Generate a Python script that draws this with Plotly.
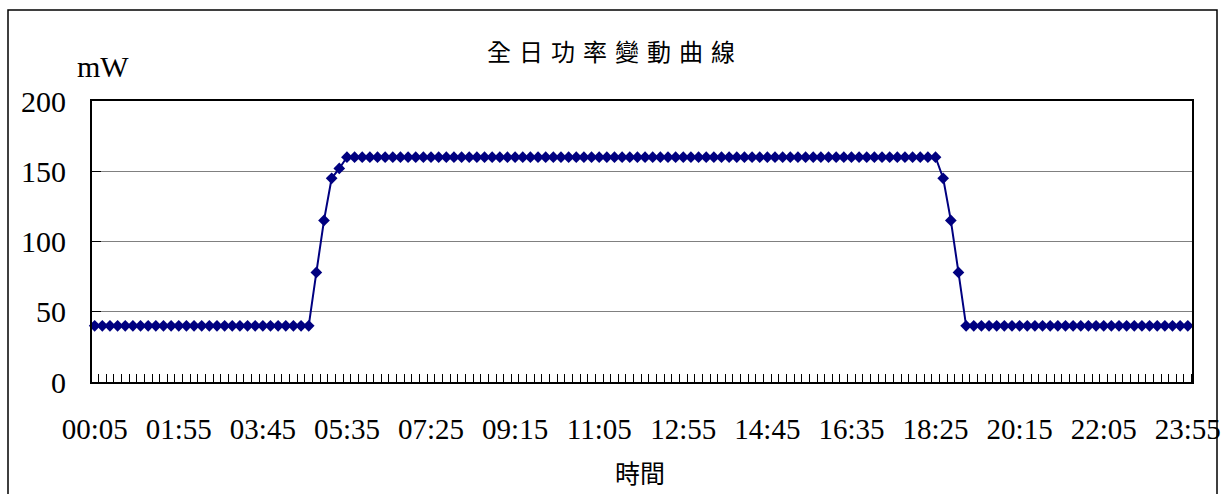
import plotly.graph_objects as go

categories = [
    "00:05", "00:15", "00:25", "00:35", "00:45", "00:55",
    "01:05", "01:15", "01:25", "01:35", "01:45", "01:55",
    "02:05", "02:15", "02:25", "02:35", "02:45", "02:55",
    "03:05", "03:15", "03:25", "03:35", "03:45", "03:55",
    "04:05", "04:15", "04:25", "04:35", "04:45", "04:55",
    "05:05", "05:15", "05:25", "05:35", "05:45", "05:55",
    "06:05", "06:15", "06:25", "06:35", "06:45", "06:55",
    "07:05", "07:15", "07:25", "07:35", "07:45", "07:55",
    "08:05", "08:15", "08:25", "08:35", "08:45", "08:55",
    "09:05", "09:15", "09:25", "09:35", "09:45", "09:55",
    "10:05", "10:15", "10:25", "10:35", "10:45", "10:55",
    "11:05", "11:15", "11:25", "11:35", "11:45", "11:55",
    "12:05", "12:15", "12:25", "12:35", "12:45", "12:55",
    "13:05", "13:15", "13:25", "13:35", "13:45", "13:55",
    "14:05", "14:15", "14:25", "14:35", "14:45", "14:55",
    "15:05", "15:15", "15:25", "15:35", "15:45", "15:55",
    "16:05", "16:15", "16:25", "16:35", "16:45", "16:55",
    "17:05", "17:15", "17:25", "17:35", "17:45", "17:55",
    "18:05", "18:15", "18:25", "18:35", "18:45", "18:55",
    "19:05", "19:15", "19:25", "19:35", "19:45", "19:55",
    "20:05", "20:15", "20:25", "20:35", "20:45", "20:55",
    "21:05", "21:15", "21:25", "21:35", "21:45", "21:55",
    "22:05", "22:15", "22:25", "22:35", "22:45", "22:55",
    "23:05", "23:15", "23:25", "23:35", "23:45", "23:55",
]

power_mw = [
    40, 40, 40, 40, 40, 40, 40, 40, 40, 40, 40, 40,
    40, 40, 40, 40, 40, 40, 40, 40, 40, 40, 40, 40,
    40, 40, 40, 40, 40, 78, 115, 145, 152, 160, 160, 160,
    160, 160, 160, 160, 160, 160, 160, 160, 160, 160, 160, 160,
    160, 160, 160, 160, 160, 160, 160, 160, 160, 160, 160, 160,
    160, 160, 160, 160, 160, 160, 160, 160, 160, 160, 160, 160,
    160, 160, 160, 160, 160, 160, 160, 160, 160, 160, 160, 160,
    160, 160, 160, 160, 160, 160, 160, 160, 160, 160, 160, 160,
    160, 160, 160, 160, 160, 160, 160, 160, 160, 160, 160, 160,
    160, 160, 160, 145, 115, 78, 40, 40, 40, 40, 40, 40,
    40, 40, 40, 40, 40, 40, 40, 40, 40, 40, 40, 40,
    40, 40, 40, 40, 40, 40, 40, 40, 40, 40, 40, 40,
]

tick_labels = ["00:05", "01:55", "03:45", "05:35", "07:25", "09:15", "11:05",
               "12:55", "14:45", "16:35", "18:25", "20:15", "22:05", "23:55"]
y_ticks = [0, 50, 100, 150, 200]

title_text = "全日功率變動曲線"
y_title = "mW"
x_title = "時間"

x_idx = list(range(len(categories)))
tick_pos = [categories.index(t) for t in tick_labels]

serif = "Liberation Serif, Times New Roman, serif"
cjk = "Noto Sans CJK TC, Noto Sans CJK SC, sans-serif"

fig = go.Figure()
fig.add_trace(go.Scatter(
    x=x_idx, y=power_mw, mode="lines+markers",
    line=dict(color="#000080", width=2),
    marker=dict(symbol="diamond", size=9, color="#000080"),
    hoverinfo="skip", showlegend=False, cliponaxis=False,
))

L, R, T, B = 92, 31, 101, 112
W, H = 1223, 494
pw, ph = W - L - R, H - T - B

def px_x(px):
    return (px - L) / pw

def px_y(py):
    return (H - B - py) / ph

fig.update_layout(
    width=W, height=H,
    margin=dict(l=L, r=R, t=T, b=B, pad=0, autoexpand=False),
    paper_bgcolor="white", plot_bgcolor="white",
    showlegend=False,
    xaxis=dict(
        range=[-0.35, len(categories) - 1 + 0.55],
        tickmode="array", tickvals=tick_pos, ticktext=tick_labels,
        ticks="", showgrid=False, zeroline=False, automargin=False,
        ticklabeloverflow="allow",
        showline=True, linecolor="black", linewidth=2, mirror=True,
        tickfont=dict(family=serif, size=29, color="black"),
        ticklabelstandoff=20,
        minor=dict(ticks="inside", ticklen=8, tickcolor="black", tickwidth=1,
                   tick0=0.5, dtick=1, showgrid=False),
    ),
    yaxis=dict(
        range=[0, 200], tickmode="array", tickvals=y_ticks,
        ticks="inside", ticklen=9, tickcolor="black", tickwidth=1,
        showgrid=True, gridcolor="#808080", gridwidth=1,
        zeroline=False, automargin=False,
        showline=True, linecolor="black", linewidth=2, mirror=True,
        tickfont=dict(family=serif, size=30, color="black"),
        ticklabelstandoff=18,
    ),
    shapes=[dict(type="rect", xref="paper", yref="paper",
                 x0=px_x(8), x1=px_x(1217), y0=px_y(520), y1=px_y(10),
                 line=dict(color="black", width=1.5), fillcolor="rgba(0,0,0,0)",
                 layer="above")],
    annotations=[
        dict(text="\u2004".join(title_text), xref="paper", yref="paper",
             x=px_x(611), y=px_y(51), showarrow=False,
             xanchor="center", yanchor="middle",
             font=dict(family=cjk, size=24, color="black")),
        dict(text=y_title, xref="paper", yref="paper",
             x=px_x(103), y=px_y(66), showarrow=False,
             xanchor="center", yanchor="middle",
             font=dict(family=serif, size=30, color="black")),
        dict(text=x_title, xref="paper", yref="paper",
             x=px_x(640), y=px_y(472), showarrow=False,
             xanchor="center", yanchor="middle",
             font=dict(family=cjk, size=25, color="black")),
    ],
)

fig.write_html("out.html")
